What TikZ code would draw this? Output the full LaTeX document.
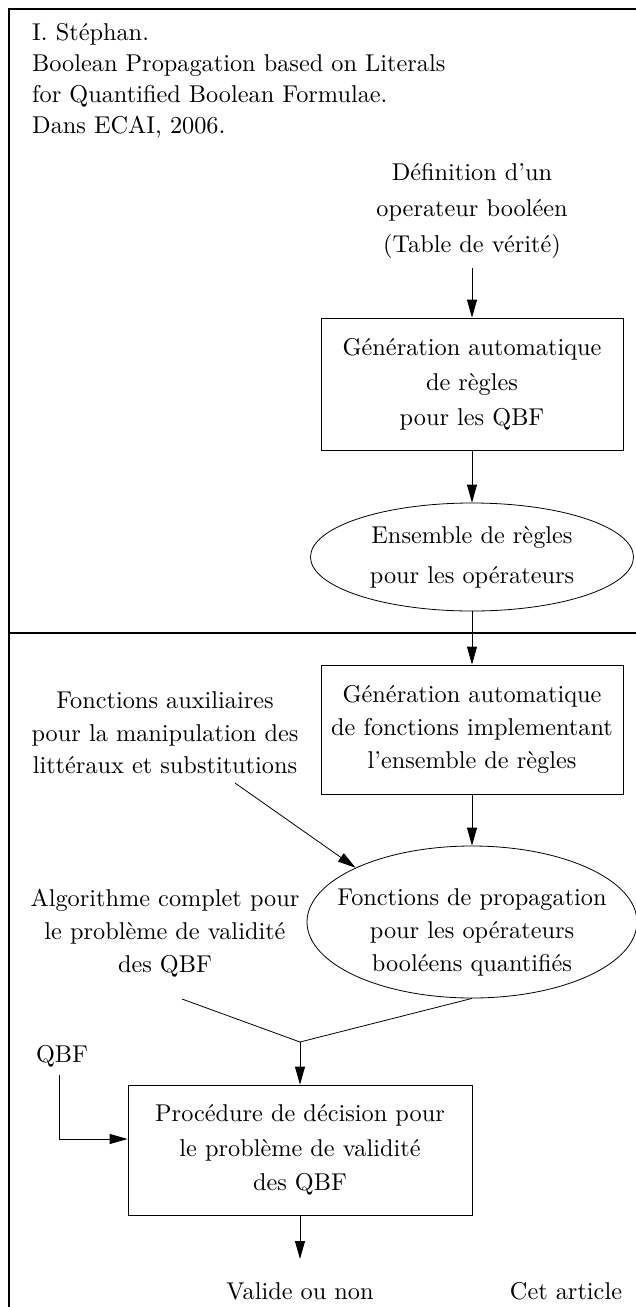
\documentclass[tikz,border=0pt]{standalone}
\usepackage{fontspec}
\setmainfont{lmroman10-regular.otf}
\usetikzlibrary{arrows.meta,shapes.geometric}
\newcommand{\fsz}[1]{\fontsize{24.3}{#1}\selectfont}
\begin{document}
\begin{tikzpicture}[x=1pt,y=-1pt,
  font=\fsz{33},
  arr/.style={-{Triangle[length=18pt,width=10pt]}, line width=0.8pt},
  ln/.style={line width=0.8pt},
  frameline/.style={line width=1.4pt},
  box/.style={draw, line width=0.8pt, rectangle, align=center, inner sep=0pt},
  oval/.style={draw, line width=0.8pt, ellipse, inner sep=0pt},
  txt/.style={align=center, inner sep=0pt}]
\useasboundingbox (0,0) rectangle (636,1307);
% frame
\coordinate (tl) at (9,9);
\coordinate (tr) at (636,9);
\coordinate (bl) at (9,1307);
\coordinate (sl) at (9,633);
\coordinate (sr) at (636,633);
\draw[frameline] (tr) -- (tl) -- (bl);
\draw[frameline] (sl) -- (sr);
% reference text
\node[txt, align=left, anchor=north west, font=\fsz{31}] (ref) at (32,23)
  {I. Stéphan.\\Boolean Propagation based on Literals\\for Quantified Boolean Formulae.\\Dans ECAI, 2006.};
% upper flow
\node[txt, font=\fsz{36}] (def) at (472,211) {Définition d'un\\operateur booléen\\(Table de vérité)};
\coordinate (defout) at (472,268);
\node[box, font=\fsz{35}, minimum width=302pt, minimum height=132pt] (b1) at (472,384)
  {Génération automatique\\de règles\\pour les QBF};
\node[oval, font=\fsz{40}, minimum width=323pt, minimum height=108pt, align=center] (e1) at (472,557)
  {Ensemble de règles\\pour les opérateurs};
\node[box, minimum width=302pt, minimum height=129pt] (b2) at (472,729.5)
  {Génération automatique\\de fonctions implementant\\l'ensemble de règles};
\node[oval, minimum width=330pt, minimum height=152pt] (e2) at (472,922) {};
\node[txt] (e2t) at (472,932) {Fonctions de propagation\\pour les opérateurs\\booléens quantifiés};
% left texts
\node[txt, font=\fsz{32.5}] (aux) at (165,733) {Fonctions auxiliaires\\pour la manipulation des\\littéraux et substitutions};
\coordinate (auxout) at (235,783);
\node[txt] (algo) at (165,933) {Algorithme complet pour\\le problème de validité\\des QBF};
\coordinate (algoout) at (182,999);
\coordinate (J) at (300,1042);
\node[txt] (qbf) at (62,1056) {QBF};
\coordinate (qbfout) at (59,1075);
\node[box, font=\fsz{34.5}, minimum width=344pt, minimum height=130pt] (b3) at (300,1150)
  {Procédure de décision pour\\le problème de validité\\des QBF};
\coordinate (vin) at (300,1259);
\node[txt] (val) at (300,1291) {Valide ou non};
\node[txt] (cet) at (566,1291) {Cet article};
% connectors
\draw[arr] (defout) -- (b1.north);
\draw[arr] (b1.south) -- (e1.north);
\draw[arr] (e1.south) -- (b2.north);
\draw[arr] (b2.south) -- (e2.north);
\draw[arr] (auxout) -- (e2.155);
\draw[ln] (algoout) -- (J) -- (e2.south);
\draw[arr] (J) -- (b3.north);
\draw[arr] (qbfout) |- ([yshift=11pt]b3.west);
\draw[arr] (b3.south) -- (vin);
\end{tikzpicture}
\end{document}
